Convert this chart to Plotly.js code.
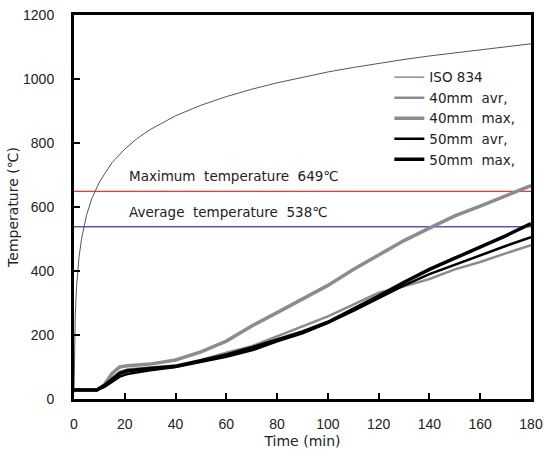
<!DOCTYPE html>
<html>
<head>
<meta charset="utf-8">
<script src="https://cdn.plot.ly/plotly-3.0.1.min.js"></script>
<style>html,body{margin:0;padding:0;background:#fff;}#chart{width:544px;height:459px;}</style>
</head>
<body>
<div id="chart"></div>
<script>
// ISO 834 standard fire curve
const isoTime = [0, 0.5, 1, 2, 3, 5, 7, 10, 15, 20, 25, 30, 40, 50, 60, 70, 80, 90, 100, 110, 120, 130, 140, 150, 160, 170, 180];
const isoTemp = [20, 261, 349, 445, 502, 576, 626, 678, 739, 781, 815, 842, 885, 918, 945, 968, 988, 1006, 1022, 1036, 1049, 1061, 1072, 1082, 1092, 1101, 1110];

// Test series time points (min)
const testTime = [0, 9, 12, 15, 18, 21, 25, 30, 40, 50, 60, 70, 80, 90, 100, 110, 120, 130, 140, 150, 160, 170, 180];
const mm40avr = [28, 28, 40, 65, 85, 92, 95, 98, 105, 122, 145, 165, 196, 226, 258, 295, 332, 352, 375, 405, 428, 455, 481];
const mm40max = [28, 28, 45, 80, 100, 104, 106, 109, 122, 147, 181, 228, 270, 314, 355, 405, 450, 495, 534, 572, 603, 635, 667];
const mm50avr = [28, 28, 38, 55, 70, 78, 84, 90, 100, 115, 132, 152, 180, 205, 238, 275, 315, 355, 390, 420, 450, 478, 506];
const mm50max = [28, 28, 42, 62, 80, 88, 92, 95, 102, 119, 138, 160, 185, 210, 240, 280, 322, 365, 405, 440, 475, 510, 548];

// Reference limits
const limitTime = [0, 180];
const maxTemp = 649;
const avgTemp = 538;

const seriesNames = ['ISO 834', '40mm  avr,', '40mm  max,', '50mm  avr,', '50mm  max,'];
const xTicks = [0, 20, 40, 60, 80, 100, 120, 140, 160, 180];
const yTicks = [0, 200, 400, 600, 800, 1000, 1200];

const traces = [
  {x: limitTime, y: [maxTemp, maxTemp], mode: 'lines', line: {color: '#ff0000', width: 1}, showlegend: false, hoverinfo: 'skip'},
  {x: limitTime, y: [avgTemp, avgTemp], mode: 'lines', line: {color: '#0000b0', width: 1}, showlegend: false, hoverinfo: 'skip'},
  {x: isoTime, y: isoTemp, name: seriesNames[0], mode: 'lines', line: {color: '#555555', width: 1}},
  {x: testTime, y: mm40avr, name: seriesNames[1], mode: 'lines', line: {color: '#8c8c8c', width: 2.5}},
  {x: testTime, y: mm40max, name: seriesNames[2], mode: 'lines', line: {color: '#8c8c8c', width: 3.5}},
  {x: testTime, y: mm50avr, name: seriesNames[3], mode: 'lines', line: {color: '#000000', width: 2.5}},
  {x: testTime, y: mm50max, name: seriesNames[4], mode: 'lines', line: {color: '#000000', width: 3.5}}
];

const tickFont = {family: '"Liberation Sans", Arial, sans-serif', size: 14, color: '#222222'};
const textFont = {family: '"DejaVu Sans", sans-serif', size: 13.5, color: '#222222'};
const titleFont = {family: '"DejaVu Sans", sans-serif', size: 14, color: '#222222'};

const layout = {
  width: 544, height: 459,
  margin: {l: 74, r: 13, t: 15, b: 60},
  paper_bgcolor: '#ffffff', plot_bgcolor: '#ffffff',
  font: tickFont,
  showlegend: true,
  legend: {x: 0.69, y: 0.878, xanchor: 'left', yanchor: 'top', bgcolor: 'rgba(0,0,0,0)', font: textFont, tracegroupgap: 0},
  xaxis: {
    range: [0, 180], tickvals: xTicks, ticks: 'inside', ticklen: 6, tickwidth: 2, tickcolor: '#000',
    showline: true, linewidth: 3, linecolor: '#000', mirror: true, showgrid: false, zeroline: false,
    ticklabelstandoff: 10, tickfont: tickFont,
    title: {text: 'Time (min)', font: titleFont, standoff: 6}
  },
  yaxis: {
    range: [0, 1200], tickvals: yTicks, ticks: 'inside', ticklen: 6, tickwidth: 2, tickcolor: '#000',
    showline: true, linewidth: 3, linecolor: '#000', mirror: true, showgrid: false, zeroline: false,
    ticklabelstandoff: 14, tickfont: tickFont,
    title: {text: 'Temperature (℃)', font: titleFont, standoff: 2}
  },
  annotations: [
    {x: 21, y: maxTemp, xref: 'x', yref: 'y', xanchor: 'left', yanchor: 'bottom', yshift: 5, showarrow: false,
     text: 'Maximum  temperature  ' + maxTemp + '℃', font: textFont},
    {x: 21, y: avgTemp, xref: 'x', yref: 'y', xanchor: 'left', yanchor: 'bottom', yshift: 5, showarrow: false,
     text: 'Average  temperature  ' + avgTemp + '℃', font: textFont}
  ]
};

Plotly.newPlot('chart', traces, layout, {displayModeBar: false, staticPlot: true});
</script>
</body>
</html>
